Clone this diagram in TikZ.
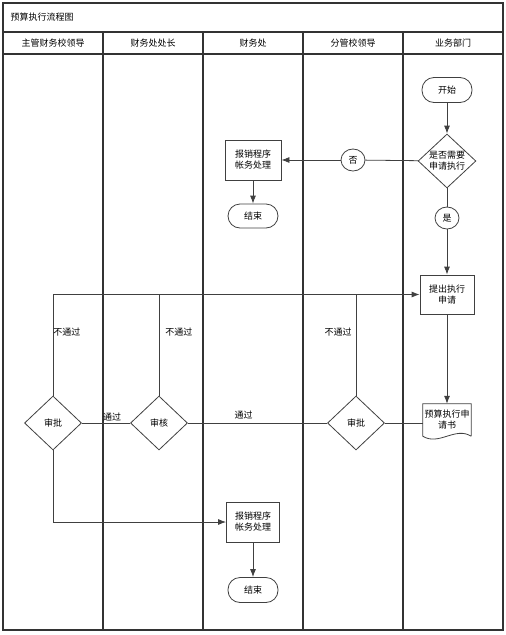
\documentclass[tikz,border=0pt]{standalone}
\usepackage{fontspec}
\setmainfont{Noto Sans CJK SC}
\usetikzlibrary{shapes.geometric,arrows.meta}

\begin{document}
\begin{tikzpicture}[
    x=1pt, y=-1pt, font=\fontsize{9}{11}\selectfont,
    line/.style={draw=black!75, line width=0.8pt},
    frame/.style={draw=black!80, line width=1.2pt},
    box/.style={line, rectangle, minimum width=54pt, minimum height=40pt, inner sep=1pt, align=center},
    term/.style={line, rectangle, rounded corners=12pt, minimum width=50pt, minimum height=25pt},
    decide/.style={line, diamond, minimum width=57pt, minimum height=54pt, inner sep=0pt, align=center},
    tag/.style={line, ellipse, minimum width=24pt, minimum height=22pt, inner sep=0pt},
    flow/.style={line, -{Latex[length=8pt,width=6pt]}},
]
\useasboundingbox (0,0) rectangle (506,635);
\draw[frame] (3,3) rectangle (503,630);
\draw[frame] (3,32) -- (503,32);
\draw[frame] (3,54) -- (503,54);
\draw[frame] (103,32) -- (103,630);
\draw[frame] (203,32) -- (203,630);
\draw[frame] (303,32) -- (303,630);
\draw[frame] (403,32) -- (403,630);
\node[anchor=west] (title) at (7,17) {预算执行流程图};
\node (lane1) at (53,43) {主管财务校领导};
\node (lane2) at (153,43) {财务处处长};
\node (lane3) at (253,43) {财务处};
\node (lane4) at (353,43) {分管校领导};
\node (lane5) at (453,43) {业务部门};

\node[term] (start) at (447,90) {开始};
\node[decide, shape aspect=1.15] (need) at (447,161) {是否需要\\申请执行};
\node[tag] (no) at (353,160) {否};
\node[box, minimum width=56pt] (proc1) at (253,160) {报销程序\\帐务处理};
\node[term, minimum height=24pt] (end1) at (253,216) {结束};
\node[tag] (yes) at (447,218) {是};
\node[box, minimum height=39pt] (apply) at (447,294.5) {提出执行\\申请};
\node[minimum width=48pt, minimum height=32pt, inner sep=1pt, align=center] (req) at (447,420) {预算执行申\\请书};
\draw[line] (req.south east) -- (req.north east) -- (req.north west) -- (req.south west)
    .. controls +(16,10) and +(-16,-10) .. (req.south east);
\node[decide] (appr3) at (356,423) {审批};
\node[decide] (check) at (159,423) {审核};
\node[decide] (appr1) at (53,423) {审批};
\node[box, minimum width=53pt] (proc2) at (253,522) {报销程序\\帐务处理};
\node[term] (end2) at (253,590) {结束};

\draw[flow] (start) -- (need);
\draw[line] (need) -- (no);
\draw[flow] (no) -- (proc1);
\draw[flow] (proc1) -- (end1);
\draw[line] (need) -- (yes);
\draw[flow] (yes) -- (apply);
\draw[flow] (apply) -- (req);
\draw[line] (req.west |- appr3.east) -- (appr3);
\draw[line] (appr3) -- node[pos=0.6, above] (pass2) {通过} (check);
\draw[line] (check) -- node[pos=0.375, above, inner sep=1pt] (pass1) {通过} (appr1);
\draw[flow] (appr1.north) -- node[pos=0.63, right, inner sep=0pt] (fail1) {不通过} (appr1.north |- apply.west) -- (apply.west);
\draw[line] (check.north) -- node[pos=0.63, right=6pt, inner sep=0pt] (fail2) {不通过} (check.north |- apply.west);
\draw[line] (appr3.north) -- node[pos=0.63, left=4pt, inner sep=0pt] (fail3) {不通过} (appr3.north |- apply.west);
\draw[flow] (appr1.south) |- (proc2.west);
\draw[flow] (proc2) -- (end2);
\end{tikzpicture}
\end{document}
